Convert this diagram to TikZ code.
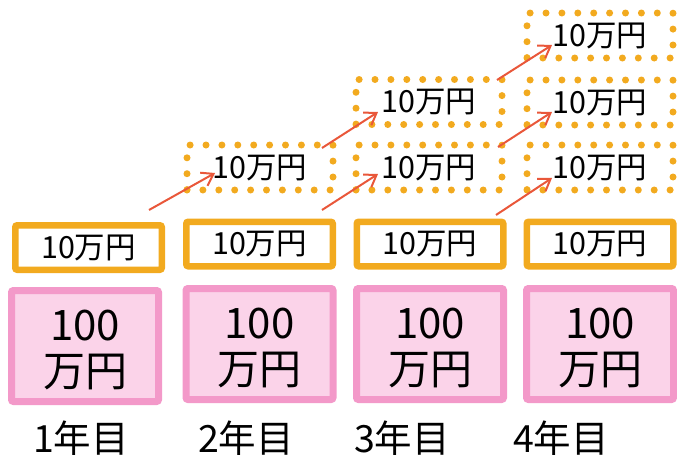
\documentclass[tikz,border=0pt]{standalone}
\usepackage{fontspec}
\setmainfont{Noto Sans CJK JP}
\usetikzlibrary{arrows.meta}
\definecolor{orng}{HTML}{F2AA1F}
\definecolor{pinkline}{HTML}{F399C9}
\definecolor{pinkfill}{HTML}{FBD3E9}
\definecolor{arr}{HTML}{E9573A}
\begin{document}
\begin{tikzpicture}[x=1pt,y=-1pt,
 solidbox/.style={draw=orng, line width=6.5pt, fill=white, rounded corners=2pt, minimum width=146.5pt, minimum height=44.5pt, inner sep=0pt, font=\fontsize{30.5}{30}\selectfont},
 dotbox/.style={draw=orng, line width=7pt, line cap=round, dash pattern=on 0pt off 15.9pt, minimum width=146pt, minimum height=45pt, inner sep=0pt, font=\fontsize{30.5}{30}\selectfont},
 pinkbox/.style={draw=pinkline, fill=pinkfill, line width=7pt, rounded corners=2pt, minimum width=147pt, minimum height=111pt, inner sep=0pt},
 pinktext/.style={align=center, font=\fontsize{42}{46}\selectfont, inner sep=0pt},
 yearlbl/.style={font=\fontsize{37.5}{38}\selectfont, anchor=base, inner sep=0pt},
 growarrow/.style={draw=arr, line width=2pt, -{Straight Barb[length=11pt,width=15pt]}}
]
\useasboundingbox (0,0) rectangle (677,455);
% pink base boxes
\node[pinkbox] (p1) at (85,346) {};
\node[pinkbox] (p2) at (259.5,344) {};
\node[pinkbox] (p3) at (430,344) {};
\node[pinkbox] (p4) at (600,344) {};
\node[pinktext, yshift=-4pt] (pt1) at (p1.center) {100\\万円};
\node[pinktext, yshift=-4pt] (pt2) at (p2.center) {100\\万円};
\node[pinktext, yshift=-4pt] (pt3) at (p3.center) {100\\万円};
\node[pinktext, yshift=-4pt] (pt4) at (p4.center) {100\\万円};
% solid boxes
\node[solidbox] (s1) at (88.5,247.5) {10万円};
\node[solidbox] (s2) at (259.5,244) {10万円};
\node[solidbox] (s3) at (430,244) {10万円};
\node[solidbox] (s4) at (600,244) {10万円};
% dotted boxes
\node[dotbox] (d21) at (260,167.5) {10万円};
\node[dotbox] (d31) at (429,167.5) {10万円};
\node[dotbox] (d32) at (429,102) {10万円};
\node[dotbox] (d41) at (600,167.5) {10万円};
\node[dotbox] (d42) at (600,102.5) {10万円};
\node[dotbox] (d43) at (600,35.5) {10万円};
% year labels
\node[yearlbl] (y1) at (81,452) {1年目};
\node[yearlbl] (y2) at (246,452) {2年目};
\node[yearlbl] (y3) at (402,452) {3年目};
\node[yearlbl] (y4) at (561,452) {4年目};
% arrow end points
\coordinate (a1s) at (149,210); \coordinate (a1e) at (215,173);
\coordinate (a2s) at (322,148); \coordinate (a2e) at (378,112);
\coordinate (a3s) at (322,210); \coordinate (a3e) at (378,174);
\coordinate (a4s) at (497,80);  \coordinate (a4e) at (552,45);
\coordinate (a5s) at (498,147); \coordinate (a5e) at (552,112);
\coordinate (a6s) at (496,215); \coordinate (a6e) at (552,178);
\draw[growarrow] (a1s) -- (a1e);
\draw[growarrow] (a2s) -- (a2e);
\draw[growarrow] (a3s) -- (a3e);
\draw[growarrow] (a4s) -- (a4e);
\draw[growarrow] (a5s) -- (a5e);
\draw[growarrow] (a6s) -- (a6e);
\end{tikzpicture}
\end{document}
